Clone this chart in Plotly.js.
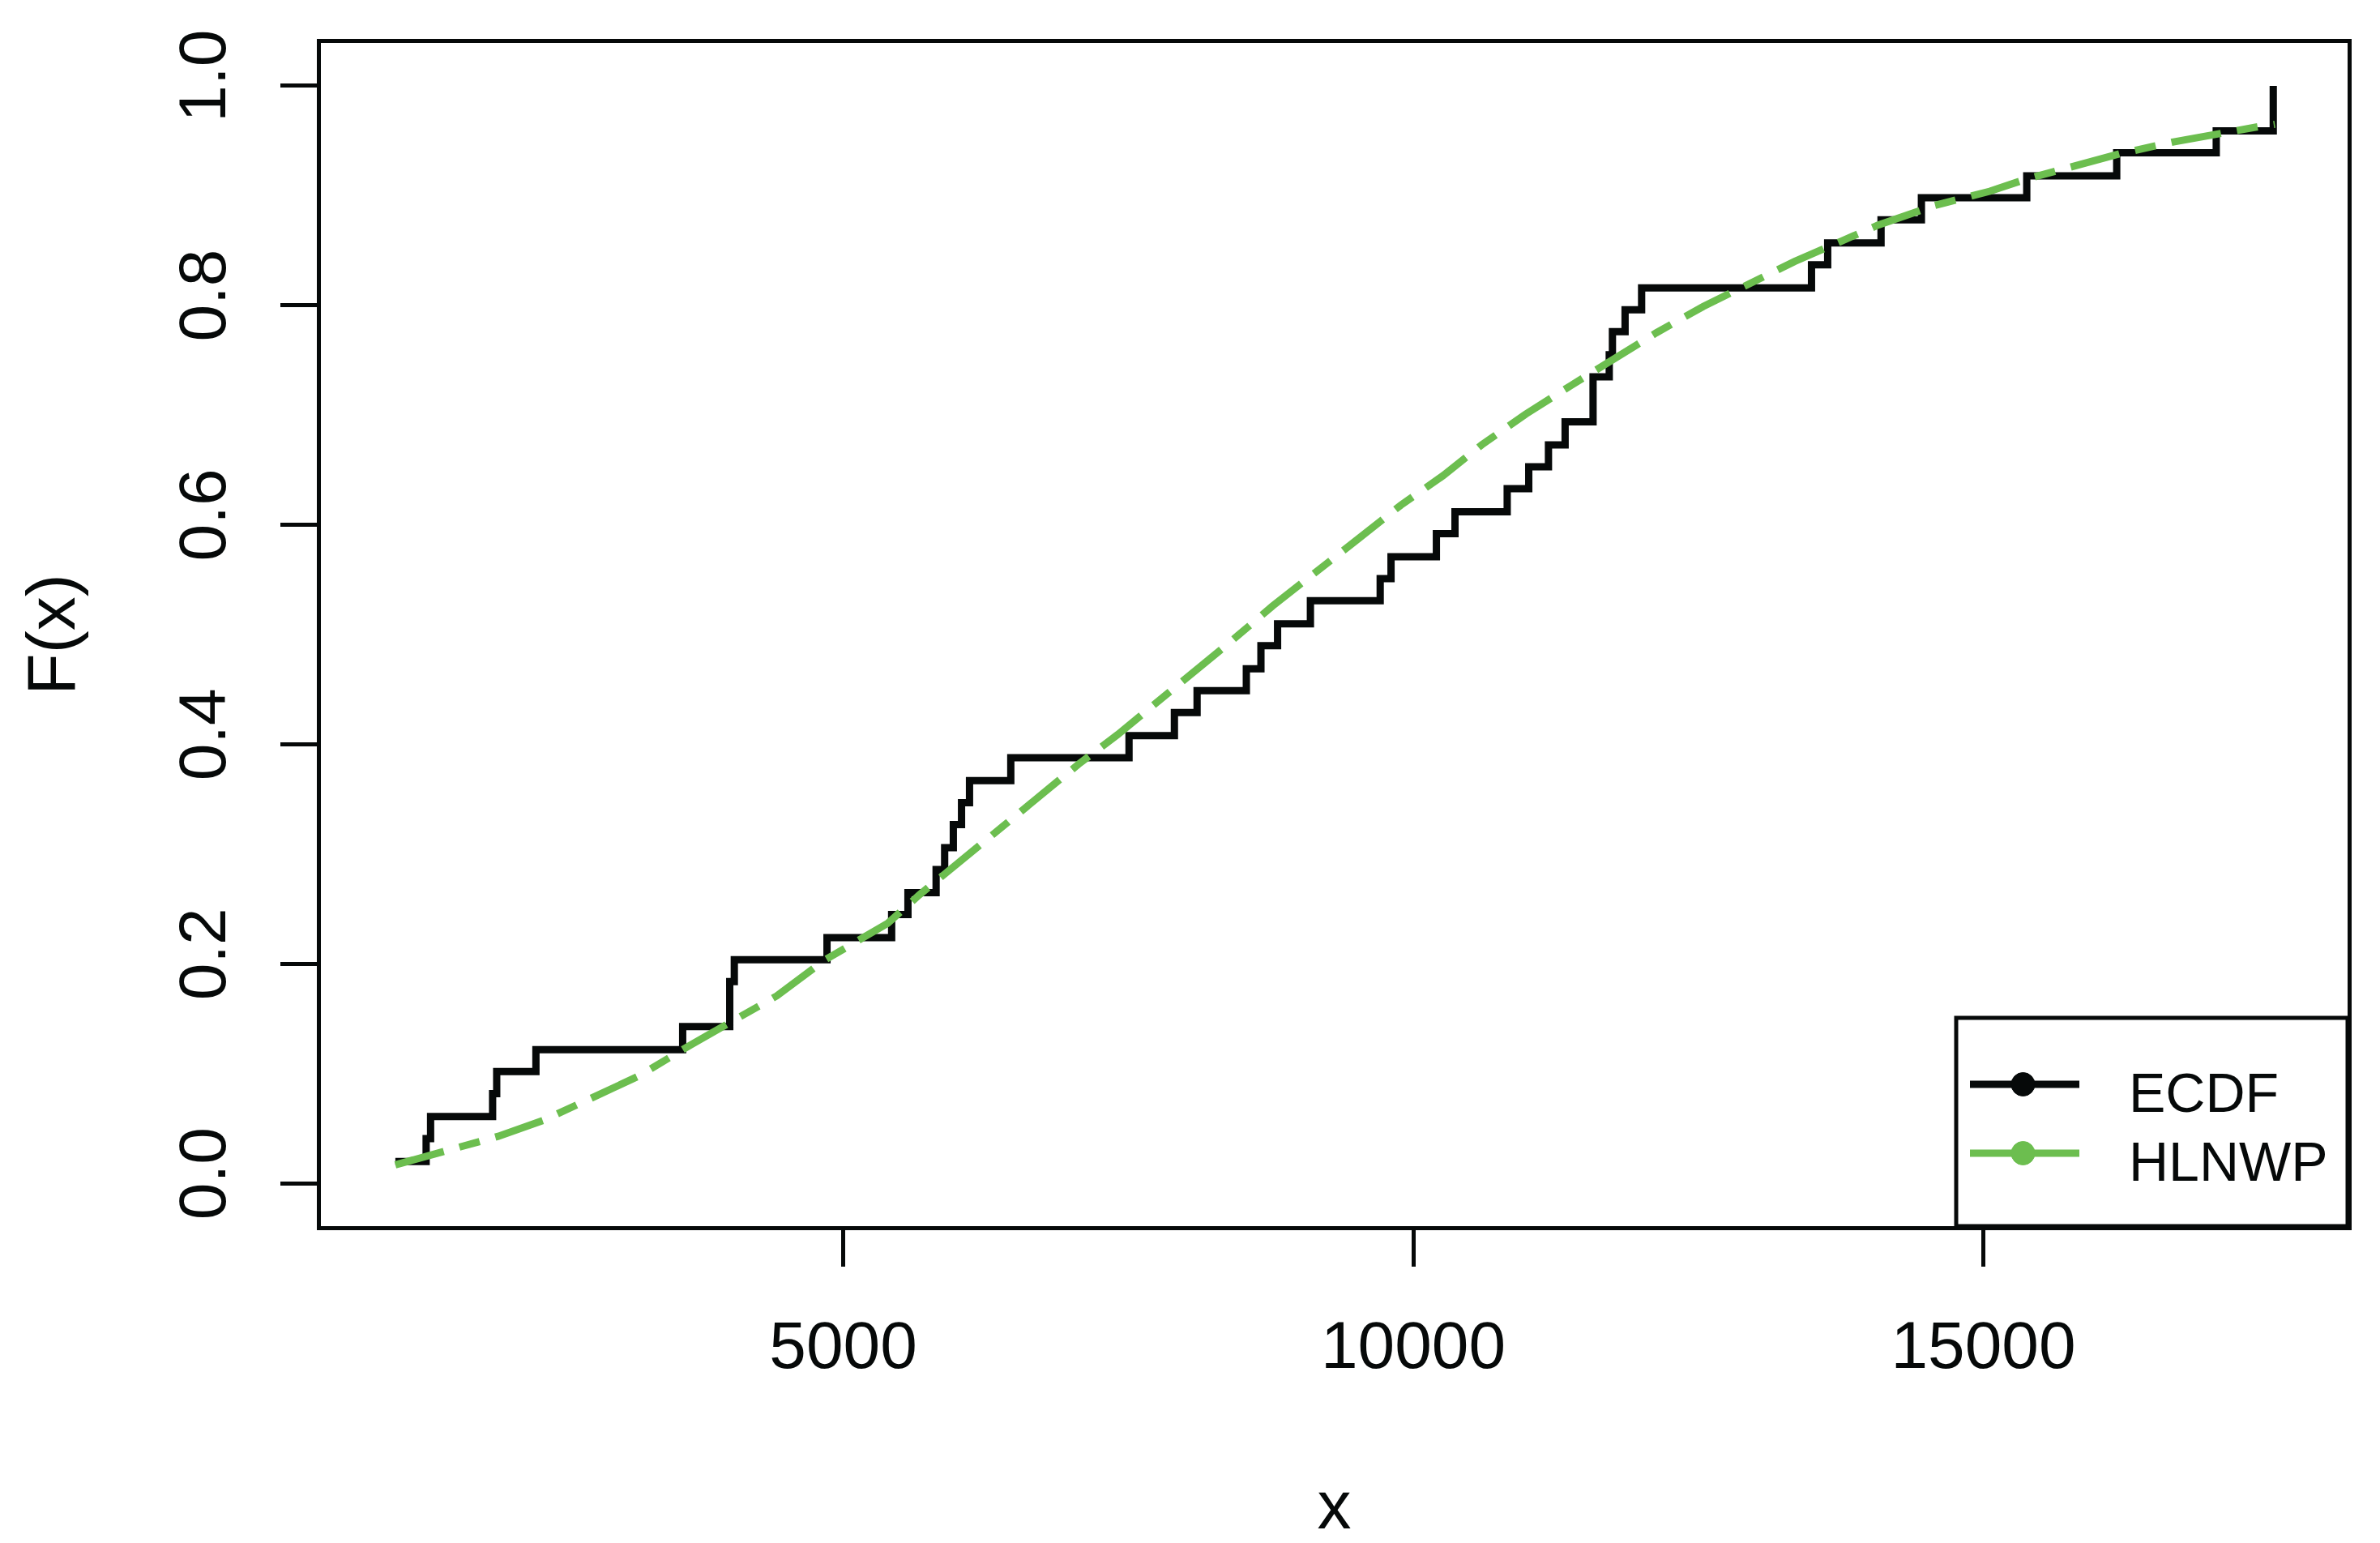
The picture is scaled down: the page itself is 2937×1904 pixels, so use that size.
<!DOCTYPE html>
<html>
<head>
<meta charset="utf-8">
<script src="https://cdn.plot.ly/plotly-3.0.1.min.js"></script>
<style>
  html, body { margin: 0; padding: 0; background: #fff; }
  #myDiv { width: 2937px; height: 1904px; }
</style>
</head>
<body>
<div id="myDiv"></div>
<script>
// empirical CDF: x where each step starts, and the level reached there
var ecdfX = [1072, 1342, 1381, 1925, 1961, 2305, 3592, 4005, 4045, 4858,
             5425, 5568, 5815, 5890, 5966, 6038, 6108, 6470, 7507, 7905,
             8104, 8536, 8664, 8810, 9098, 9710, 9805, 10203, 10366, 10824,
             11013, 11186, 11332, 11577, 11719, 11747, 11858, 12003, 13493, 13635,
             14103, 14457, 15381, 16170, 17043, 17543];
var ecdfF = [0.020, 0.041, 0.061, 0.082, 0.102, 0.122, 0.143, 0.184, 0.204, 0.224,
             0.245, 0.265, 0.286, 0.306, 0.327, 0.347, 0.367, 0.388, 0.408, 0.429,
             0.449, 0.469, 0.490, 0.510, 0.531, 0.551, 0.571, 0.592, 0.612, 0.633,
             0.653, 0.673, 0.694, 0.735, 0.755, 0.776, 0.796, 0.816, 0.837, 0.857,
             0.878, 0.898, 0.918, 0.939, 0.959, 1.000];

// fitted HLNWP cdf
var fitX = [1072, 1581, 1974, 2380, 2790, 3209, 3657, 4045, 4418, 4844,
            5390, 5668, 6029, 6354, 6700, 7064, 7408, 7742, 8066, 8402,
            8764, 9144, 9513, 9891, 10263, 10601, 10987, 11383, 11773, 12131,
            12543, 12962, 13345, 13743, 14073, 14574, 15057, 15375, 15863, 16193,
            16669, 17010, 17422, 17557];
var fitF = [0.017, 0.031, 0.043, 0.058, 0.078, 0.098, 0.126, 0.149, 0.171, 0.204,
            0.237, 0.263, 0.294, 0.321, 0.350, 0.382, 0.409, 0.437, 0.465, 0.494,
            0.526, 0.558, 0.587, 0.618, 0.645, 0.673, 0.701, 0.727, 0.752, 0.775,
            0.799, 0.821, 0.840, 0.858, 0.873, 0.891, 0.904, 0.915, 0.929, 0.938,
            0.949, 0.956, 0.963, 0.965];

var seriesNames = ['ECDF', 'HLNWP'];
var seriesColors = ['#060909', '#6cbe4f'];
var xTicks = [5000, 10000, 15000];
var yTicks = [0, 0.2, 0.4, 0.6, 0.8, 1.0];
var yTickText = ['0.0', '0.2', '0.4', '0.6', '0.8', '1.0'];

var W = 2937, H = 1904;
var mL = 396, mR = 40, mT = 53, mB = 391;
function px(x) { return (x - mL) / (W - mL - mR); }
function py(y) { return (H - mB - y) / (H - mT - mB); }

var font = 'Liberation Sans, Arial, sans-serif';

var trace1 = {
    x: ecdfX,
    y: ecdfF,
    name: seriesNames[0],
    mode: 'lines',
    line: { color: seriesColors[0], width: 9, shape: 'hv' },
    type: 'scatter'
};
var trace2 = {
    x: fitX,
    y: fitF,
    name: seriesNames[1],
    mode: 'lines',
    line: { color: seriesColors[1], width: 9, dash: '62px,20px,26px,20px' },
    type: 'scatter'
};

// legend box drawn by hand (R style, bottom right)
var shapes = [
    { type: 'rect', xref: 'paper', yref: 'paper', x0: px(2414), x1: 1, y0: 0, y1: py(1256),
      line: { color: '#060909', width: 5 }, fillcolor: 'rgba(0,0,0,0)' }
];
var annotations = [];
var rowY = [1338, 1423];
for (var i = 0; i < 2; i++) {
    shapes.push({ type: 'line', xref: 'paper', yref: 'paper',
        x0: px(2431), x1: px(2566), y0: py(rowY[i]), y1: py(rowY[i]),
        line: { color: seriesColors[i], width: 9 } });
    shapes.push({ type: 'circle', xref: 'paper', yref: 'paper',
        x0: px(2482), x1: px(2511), y0: py(rowY[i] + 14.5), y1: py(rowY[i] - 14.5),
        fillcolor: seriesColors[i], line: { color: seriesColors[i], width: 1 } });
    annotations.push({ xref: 'paper', yref: 'paper', x: px(2625), y: py(rowY[i] + 10),
        xanchor: 'left', yanchor: 'middle', showarrow: false, text: seriesNames[i],
        font: { family: font, size: 68, color: '#060909' } });
}

var layout = {
    width: W,
    height: H,
    margin: { l: mL, r: mR, t: mT, b: mB },
    paper_bgcolor: '#fff',
    plot_bgcolor: '#fff',
    showlegend: false,
    hovermode: false,
    font: { family: font, color: '#060909' },
    xaxis: {
        range: [419, 18195],
        tickvals: xTicks,
        ticktext: ['5000', '10000', '15000'],
        ticks: 'outside',
        ticklen: 45,
        tickwidth: 5,
        tickcolor: '#060909',
        ticklabelstandoff: 27,
        tickfont: { size: 82, color: '#060909' },
        showline: true,
        linewidth: 5,
        linecolor: '#060909',
        mirror: true,
        showgrid: false,
        zeroline: false,
        title: { text: 'x', standoff: 128, font: { size: 84, color: '#060909' } }
    },
    yaxis: {
        range: [-0.0388, 1.0391],
        tickvals: yTicks,
        ticktext: yTickText,
        tickangle: -90,
        ticks: 'outside',
        ticklen: 45,
        tickwidth: 5,
        tickcolor: '#060909',
        ticklabelstandoff: 35,
        tickfont: { size: 82, color: '#060909' },
        showline: true,
        linewidth: 5,
        linecolor: '#060909',
        mirror: true,
        showgrid: false,
        zeroline: false,
        title: { text: 'F(x)', standoff: 85, font: { size: 84, color: '#060909' } }
    },
    shapes: shapes,
    annotations: annotations
};

Plotly.newPlot('myDiv', [trace1, trace2], layout, { displayModeBar: false, staticPlot: true });
</script>
</body>
</html>
